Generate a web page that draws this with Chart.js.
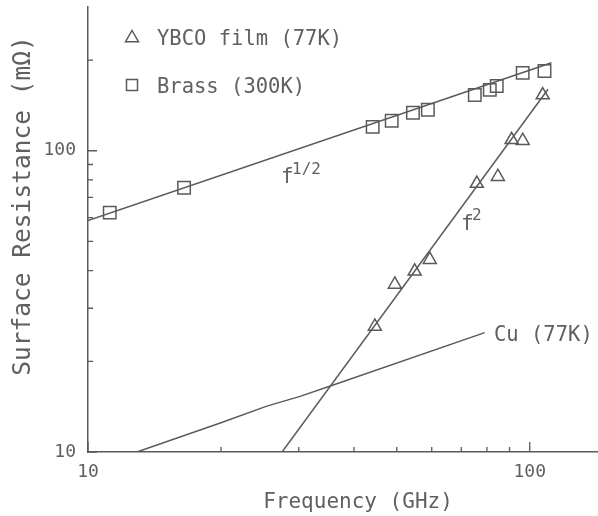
<!DOCTYPE html>
<html>
<head>
<meta charset="utf-8">
<script src="https://cdn.jsdelivr.net/npm/chart.js@4.4.1/dist/chart.umd.min.js"></script>
<style>
  html, body { margin: 0; padding: 0; background: #fff; }
</style>
</head>
<body>
<canvas id="rsChart" width="598" height="516"></canvas>
<script>
// Brass (300K) measurements
const brassFreq = [11.2, 16.5, 44.1, 48.7, 54.4, 58.8, 75.1, 81.2, 84.2, 96.4, 108]
const brassRs = [62.3, 75.4, 120, 125.7, 133.6, 136.7, 153.2, 159.2, 164.1, 181.3, 184]

// YBCO film (77K) measurements
const ybcoFreq = [44.6, 49.5, 54.9, 59.4, 75.9, 84.7, 91.0, 96.4, 107]
const ybcoRs = [26.1, 36.0, 39.8, 43.5, 77.8, 82.0, 108.7, 108.0, 153]

// f^1/2 and f^2 guide lines (end points)
const brassFitFreq = [10, 112]
const brassFitRs = [58.6, 196]
const ybcoFitFreq = [27.5, 110]
const ybcoFitRs = [10, 160]

// Cu (77K) curve
const cuFreq = [12.9, 20.0, 25.4, 30.2, 35.1, 79.1]
const cuRs = [10, 12.5, 14.2, 15.3, 16.5, 24.9]

// axis ticks
const xLabelTicks = [10, 100]
const yLabelTicks = [10, 100]
const xMinorTicks = [20, 30, 40, 50, 60, 70, 80, 90]
const yMinorTicks = [20, 30, 40, 50, 60, 70, 80, 90, 200]

const ink = '#5a5a5a'
const textInk = '#606060'
const mono = '"DejaVu Sans Mono", monospace'

const toPoints = (xs, ys) => xs.map((x, i) => ({ x, y: ys[i] }))

function drawTriangle(ctx, x, y, r) {
  ctx.beginPath()
  ctx.moveTo(x, y - r)
  ctx.lineTo(x + r * 0.866, y + r * 0.5)
  ctx.lineTo(x - r * 0.866, y + r * 0.5)
  ctx.closePath()
  ctx.stroke()
}

// no extra room for overhanging tick labels
function noPadding(s) {
  s.paddingTop = 0
  s.paddingBottom = 0
  s.paddingLeft = 0
  s.paddingRight = 0
}

const plotDecor = {
  id: 'plotDecor',
  afterDraw(chart) {
    const { ctx, chartArea, scales } = chart
    const xs = scales.x
    const ys = scales.y
    ctx.save()
    ctx.strokeStyle = ink
    ctx.lineWidth = 1.3

    // inward tick marks
    ctx.beginPath()
    xLabelTicks.concat(xMinorTicks).forEach(v => {
      const px = xs.getPixelForValue(v)
      const len = xLabelTicks.includes(v) ? 10 : 5
      ctx.moveTo(px, chartArea.bottom)
      ctx.lineTo(px, chartArea.bottom - len)
    })
    yLabelTicks.concat(yMinorTicks).forEach(v => {
      const py = ys.getPixelForValue(v)
      const len = yLabelTicks.includes(v) ? 9 : 5
      ctx.moveTo(chartArea.left, py)
      ctx.lineTo(chartArea.left + len, py)
    })
    ctx.stroke()

    // legend
    ctx.lineWidth = 1.5
    drawTriangle(ctx, 132, 38, 7.5)
    ctx.strokeRect(126.5, 79.5, 11, 11)
    ctx.fillStyle = textInk
    ctx.textBaseline = 'alphabetic'
    ctx.textAlign = 'left'
    ctx.font = '20.5px ' + mono
    ctx.fillText('YBCO film (77K)', 157, 45)
    ctx.fillText('Brass (300K)', 157, 93)

    // line annotations
    ctx.font = '21px ' + mono
    ctx.fillText('f', 281, 183)
    ctx.fillText('f', 461, 230)
    ctx.font = '16px ' + mono
    ctx.fillText('1/2', 292, 174)
    ctx.fillText('2', 472, 220)
    ctx.font = '20.5px ' + mono
    ctx.fillText('Cu (77K)', 494, 341)

    // axis titles
    ctx.textAlign = 'center'
    ctx.font = '21px ' + mono
    ctx.fillText('Frequency (GHz)', 358, 508)
    ctx.translate(30, 206)
    ctx.rotate(-Math.PI / 2)
    ctx.font = '24.5px ' + mono
    ctx.fillText('Surface Resistance (m\u03A9)', 0, 0)
    ctx.restore()
  }
}

const lineStyle = {
  showLine: true,
  borderColor: ink,
  borderWidth: 1.5,
  pointRadius: 0,
  pointHoverRadius: 0,
  tension: 0,
  fill: false
}

new Chart(document.getElementById('rsChart'), {
  type: 'scatter',
  data: {
    datasets: [
      { label: 'f1/2', data: toPoints(brassFitFreq, brassFitRs), ...lineStyle },
      { label: 'f2', data: toPoints(ybcoFitFreq, ybcoFitRs), ...lineStyle },
      { label: 'Cu (77K)', data: toPoints(cuFreq, cuRs), ...lineStyle },
      {
        label: 'Brass (300K)',
        data: toPoints(brassFreq, brassRs),
        pointStyle: 'rect',
        pointRadius: 8.8,
        pointBackgroundColor: 'rgba(255,255,255,0)',
        pointBorderColor: ink,
        pointBorderWidth: 1.5,
        showLine: false
      },
      {
        label: 'YBCO film (77K)',
        data: toPoints(ybcoFreq, ybcoRs),
        pointStyle: 'triangle',
        pointRadius: 7.5,
        pointBackgroundColor: 'rgba(255,255,255,0)',
        pointBorderColor: ink,
        pointBorderWidth: 1.5,
        showLine: false
      }
    ]
  },
  options: {
    responsive: false,
    devicePixelRatio: 1,
    animation: false,
    layout: { autoPadding: false, padding: { top: 7, right: 1, left: 0, bottom: 0 } },
    plugins: {
      legend: { display: false },
      tooltip: { enabled: false }
    },
    scales: {
      x: {
        type: 'logarithmic',
        min: 10,
        max: 142,
        grid: { display: false, drawTicks: false },
        border: { display: true, color: ink, width: 1.5 },
        ticks: {
          color: textInk,
          font: { family: mono, size: 18 },
          padding: 10,
          maxRotation: 0,
          autoSkip: false,
          callback: v => String(v)
        },
        afterBuildTicks: s => { s.ticks = xLabelTicks.map(v => ({ value: v })) },
        afterFit: s => { s.height = 64; noPadding(s) }
      },
      y: {
        type: 'logarithmic',
        min: 10,
        max: 300,
        grid: { display: false, drawTicks: false },
        border: { display: true, color: ink, width: 1.5 },
        ticks: {
          color: textInk,
          font: { family: mono, size: 18 },
          padding: 12,
          autoSkip: false,
          callback: v => String(v)
        },
        afterBuildTicks: s => { s.ticks = yLabelTicks.map(v => ({ value: v })) },
        afterFit: s => { s.width = 88; noPadding(s) }
      }
    }
  },
  plugins: [plotDecor]
})
</script>
</body>
</html>
